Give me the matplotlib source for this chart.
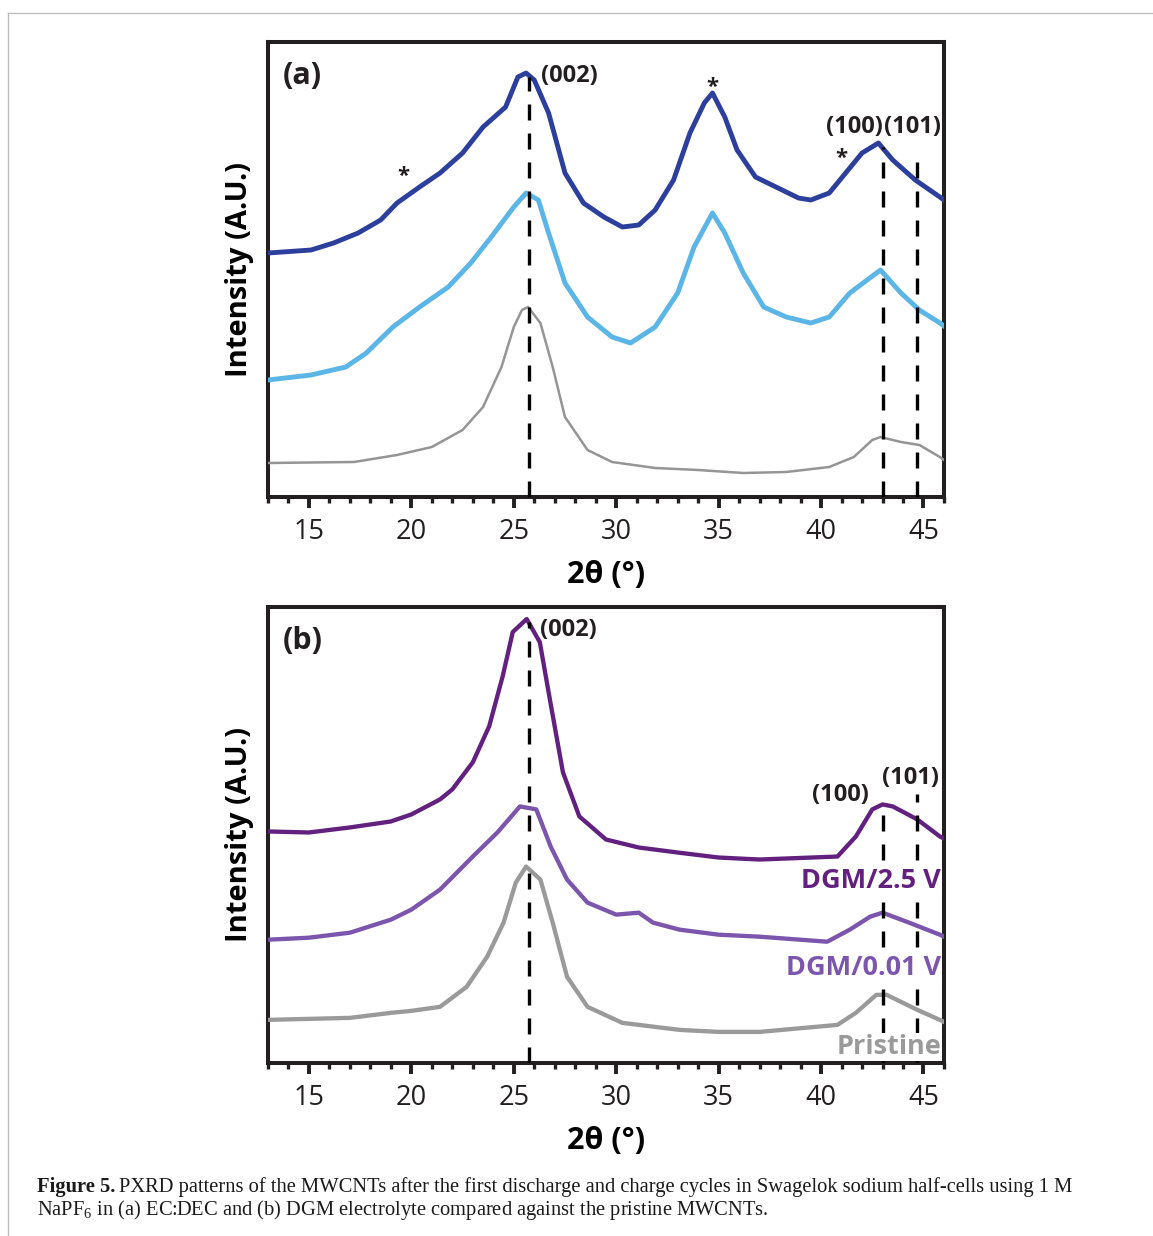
import numpy as np
import matplotlib.pyplot as plt
from matplotlib.lines import Line2D

# ---- data (intensity in arbitrary units) ----
# panel (a): EC:DEC
a_top_x = [13, 15.1, 16.2, 17.4, 18.5, 19.3, 20.4, 21.4, 22.5, 23.5, 24.6, 25.2, 25.6, 26.0, 26.7, 27.5,
           28.4, 29.4, 30.3, 31.1, 31.9, 32.8, 33.6, 34.3, 34.7, 35.3, 35.9, 36.8, 37.8, 38.9, 39.5,
           40.4, 41.2, 42.0, 42.8, 43.5, 44.6, 45.8, 46]
a_top_y = [244, 247, 254, 264, 277, 294, 310, 324, 344, 370, 390, 420, 424, 417, 384, 324,
           294, 280, 270, 272, 287, 317, 364, 394, 404, 380, 347, 320, 310, 299, 297,
           304, 324, 344, 354, 337, 317, 300, 297]
a_mid_x = [13, 15.1, 16.8, 17.8, 19.1, 20.4, 21.8, 22.9, 23.9, 25.0, 25.6, 26.2, 26.7, 27.5, 28.6, 29.8,
           30.7, 31.9, 33.0, 33.8, 34.7, 35.3, 36.2, 37.2, 38.3, 39.5, 40.4, 41.4, 42.9, 43.9, 44.8,
           45.8, 46]
a_mid_y = [117, 122, 130, 144, 170, 190, 210, 234, 260, 290, 304, 297, 264, 214, 180, 160,
           154, 170, 204, 250, 284, 264, 224, 190, 180, 174, 180, 204, 227, 204, 187,
           174, 171]
a_bot_x = [13, 17.2, 19.3, 21.0, 22.5, 23.5, 24.4, 25.0, 25.4, 25.7, 26.3, 26.9, 27.5, 28.6, 29.8, 31.9,
           34.0, 36.2, 38.3, 40.4, 41.6, 42.5, 42.9, 43.9, 44.8, 45.8, 46]
a_bot_y = [34, 35, 42, 50, 67, 90, 130, 170, 187, 190, 174, 130, 80, 47, 35, 29,
           27, 24, 25, 30, 40, 57, 60, 55, 52, 40, 37]

# panel (b): DGM
b_top_x = [13, 15, 17, 19, 20, 21.4, 22.0, 23.0, 23.8, 24.46, 24.95, 25.63, 26.27, 26.76, 27.4, 28.2,
           29.5, 31.1, 33, 35, 37.0, 40.8, 41.7, 42.5, 43.0, 43.5, 44.7, 45.8, 46]
b_top_y = [231, 230, 235, 241, 248, 263, 273, 300, 336, 386, 430, 443, 420, 363, 290, 246,
           223, 215, 210, 205, 203, 206, 226, 253, 258, 256, 243, 226, 224]
b_mid_x = [13, 15, 17, 19, 20, 21.4, 23.0, 24.2, 25.3, 26.1, 26.8, 27.6, 28.6, 30.0, 31.1, 31.8,
           33.1, 35, 37.0, 40.3, 41.4, 42.4, 43.0, 44.3, 45.8, 46]
b_mid_y = [123, 125, 130, 143, 153, 173, 206, 230, 256, 253, 216, 183, 160, 148, 150, 140,
           133, 128, 126, 121, 133, 146, 150, 140, 128, 126]
b_bot_x = [13, 17, 19, 20, 21.4, 22.7, 23.7, 24.5, 25.1, 25.6, 26.3, 26.9, 27.6, 28.6, 30.3, 33.1,
           35, 37, 40.8, 41.7, 42.7, 43.2, 44.7, 45.8, 46]
b_bot_y = [43, 45, 50, 52, 56, 76, 106, 140, 180, 196, 183, 140, 86, 56, 40, 33,
           31, 31, 38, 50, 68, 68, 53, 43, 41]

ref_002, ref_100, ref_101 = 25.73, 43.0, 44.67
b_labels = ["DGM/2.5 V", "DGM/0.01 V", "Pristine"]

DBLUE, LBLUE, GREY = "#2d3f9c", "#5bb5e6", "#959595"
DPURP, MPURP, GREY_B = "#62207f", "#7c55ad", "#9a9a9a"
INK = "#231f20"

plt.rcParams.update({"font.family": ["Open Sans", "DejaVu Sans"], "text.color": INK,
                     "mathtext.fontset": "custom", "mathtext.rm": "Liberation Serif"})

fig = plt.figure(figsize=(11.53, 12.36), dpi=100)
ax_a = fig.add_axes([0.2324, 0.5979, 0.5863, 0.3681])
ax_b = fig.add_axes([0.2324, 0.1400, 0.5863, 0.3689])


def style(ax):
    ax.set_xlim(13, 46)
    ax.set_ylim(0, 455)
    ax.set_xticks(range(15, 46, 5))
    ax.set_xticks(range(13, 47), minor=True)
    ax.set_yticks([])
    for s in ax.spines.values():
        s.set_linewidth(2.9)
        s.set_color(INK)
    ax.tick_params(axis="x", which="major", direction="out", length=8, width=2.8,
                   labelsize=19.5, pad=7, colors=INK)
    ax.tick_params(axis="x", which="minor", direction="out", length=4.5, width=2.4, colors=INK)
    ax.set_xlabel("2θ (°)", fontsize=22, fontweight="bold", va="top")
    ax.xaxis.set_label_coords(0.5, -0.138)
    ax.set_ylabel("Intensity (A.U.)", fontsize=21, fontweight="bold")
    ax.yaxis.set_label_coords(-0.021, 0.5)


dash = dict(color="black", lw=2.4, ls=(0, (4.8, 3.9)), zorder=4)
lab = dict(fontweight="bold", va="center", zorder=6)

# panel (a)
style(ax_a)
ax_a.plot(a_top_x, a_top_y, color=DBLUE, lw=3.5, solid_joinstyle="round", zorder=3)
ax_a.plot(a_mid_x, a_mid_y, color=LBLUE, lw=3.5, solid_joinstyle="round", zorder=3)
ax_a.plot(a_bot_x, a_bot_y, color=GREY, lw=1.8, solid_joinstyle="round", zorder=3)
ax_a.plot([ref_002, ref_002], [0, 420], **dash)
ax_a.plot([ref_100, ref_100], [0, 350], **dash)
ax_a.plot([ref_101, ref_101], [0, 347], **dash)
ax_a.text(13.7, 421, "(a)", fontsize=22, **lab)
ax_a.text(26.35, 421, "(002)", fontsize=17, **lab)
ax_a.text(41.63, 370, "(100)", fontsize=17, ha="center", **lab)
ax_a.text(44.46, 370, "(101)", fontsize=17, ha="center", **lab)
for sx, sy in [(19.6, 321), (34.7, 410), (41.0, 339)]:
    ax_a.text(sx, sy, "*", fontsize=16, ha="center", **lab)

# panel (b)
style(ax_b)
ax_b.plot(b_top_x, b_top_y, color=DPURP, lw=3.1, solid_joinstyle="round", zorder=3)
ax_b.plot(b_mid_x, b_mid_y, color=MPURP, lw=3.1, solid_joinstyle="round", zorder=3)
ax_b.plot(b_bot_x, b_bot_y, color=GREY_B, lw=3.1, solid_joinstyle="round", zorder=3)
ax_b.plot([ref_002, ref_002], [0, 440], **dash)
ax_b.plot([ref_100, ref_100], [0, 258], **dash)
ax_b.plot([ref_101, ref_101], [0, 268], **dash)
ax_b.text(13.7, 421, "(b)", fontsize=22, **lab)
ax_b.text(26.3, 432, "(002)", fontsize=17, **lab)
ax_b.text(40.95, 267, "(100)", fontsize=17, ha="center", **lab)
ax_b.text(44.37, 284, "(101)", fontsize=17, ha="center", **lab)
for txt, yy, col in zip(b_labels, [182, 95, 16], [DPURP, MPURP, GREY_B]):
    ax_b.text(45.85, yy, txt, fontsize=19.5, color=col, ha="right",
              bbox=dict(facecolor="white", edgecolor="none", pad=0.5), **lab)

# page frame and caption
fig.add_artist(Line2D([0.007, 1.0], [0.9895, 0.9895], color="#bdbdbd", lw=1.0))
fig.add_artist(Line2D([0.007, 0.007], [0.0, 0.9895], color="#bdbdbd", lw=1.0))

cap_kw = dict(family="Liberation Serif", fontsize=14.8, color="#1a1a1a", va="baseline")
t = fig.text(0.032, 0.0355, "Figure 5.", fontweight="bold", **cap_kw)
fig.canvas.draw()
bb = t.get_window_extent()
x2 = (bb.x1 + 4) / fig.bbox.width
fig.text(x2, 0.0355, "PXRD patterns of the MWCNTs after the first discharge and charge cycles in "
         "Swagelok sodium half-cells using 1 M", **cap_kw)
fig.text(0.032, 0.0167, r"NaPF$_\mathrm{6}$ in (a) EC:DEC and (b) DGM electrolyte compared against the "
         "pristine MWCNTs.", **cap_kw)

fig.savefig("out.png", dpi=100, facecolor="white")
